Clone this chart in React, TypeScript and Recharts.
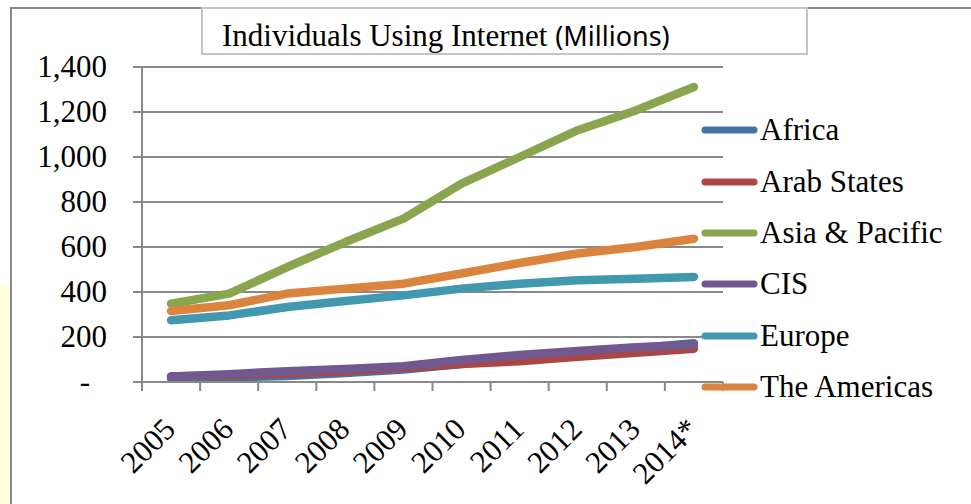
import { LineChart, Line, XAxis, YAxis, CartesianGrid, Legend } from "recharts";

const years = ["2005", "2006", "2007", "2008", "2009", "2010", "2011", "2012", "2013", "2014*"];
const africa = [15, 20, 27, 40, 55, 80, 105, 125, 150, 172];
const arabStates = [25, 30, 38, 48, 62, 80, 92, 112, 130, 148];
const asiaPacific = [348, 393, 511, 622, 726, 882, 1000, 1119, 1207, 1311];
const cis = [25, 35, 48, 58, 70, 98, 120, 138, 155, 165];
const europe = [274, 296, 333, 360, 385, 415, 437, 452, 459, 467];
const americas = [316, 341, 393, 415, 437, 482, 529, 571, 600, 637];
const yTicks = [0, 200, 400, 600, 800, 1000, 1200, 1400];
const yDomain = [0, 1400];

const series = [
  { name: "Africa", values: africa, color: "#4572A7" },
  { name: "Arab States", values: arabStates, color: "#AA4643" },
  { name: "Asia & Pacific", values: asiaPacific, color: "#89A54E" },
  { name: "CIS", values: cis, color: "#71588F" },
  { name: "Europe", values: europe, color: "#4198AF" },
  { name: "The Americas", values: americas, color: "#DB843D" },
];

const data = years.map((year, i) => {
  const row: any = { year };
  series.forEach((s) => (row[s.name] = s.values[i]));
  return row;
});

const WIDTH = 971;
const HEIGHT = 504;
const Y_AXIS_W = 142;
const chartMargin = { top: 67, right: 248, bottom: 0, left: 0 };
// width of one category band, for the tick marks between categories
const band = (WIDTH - Y_AXIS_W - chartMargin.right) / years.length;

const serif = "'Liberation Serif', 'Times New Roman', serif";
const grey = "#888888";
const axisStroke = { stroke: grey, strokeWidth: 2 };

const YearTick = ({ x, y, payload, index }: any) => {
  const axisY = y - 8;
  const left = x - band / 2;
  return (
    <g>
      <line x1={left} x2={left} y1={axisY} y2={axisY + 9} {...axisStroke} />
      {index === years.length - 1 && (
        <line
          x1={left + band}
          x2={left + band}
          y1={axisY}
          y2={axisY + 9}
          {...axisStroke}
        />
      )}
      <text
        x={x + 6}
        y={y + 41}
        textAnchor="end"
        fontFamily={serif}
        fontSize={31}
        fill="#000"
        transform={`rotate(-45, ${x + 6}, ${y + 41})`}
      >
        {payload.value}
      </text>
    </g>
  );
};

const ValueTick = ({ x, y, payload }: any) => {
  const v = payload.value;
  return (
    <text
      x={v === 0 ? x - 17 : x}
      y={y}
      dy="0.33em"
      textAnchor="end"
      fontFamily={serif}
      fontSize={31}
      fill="#000"
    >
      {v === 0 ? "-" : v.toLocaleString("en-US")}
    </text>
  );
};

const LegendBox = () => (
  <div>
    {series.map((s) => (
      <div
        key={s.name}
        style={{ display: "flex", alignItems: "center", height: 51.4 }}
      >
        <svg width={57} height={10}>
          <line
            x1={4}
            x2={53}
            y1={5}
            y2={5}
            stroke={s.color}
            strokeWidth={7}
            strokeLinecap="round"
          />
        </svg>
        <span
          style={{
            fontFamily: serif,
            fontSize: 31,
            color: "#000",
            marginLeft: 2,
            whiteSpace: "nowrap",
          }}
        >
          {s.name}
        </span>
      </div>
    ))}
  </div>
);

export default function App() {
  return (
    <div
      style={{
        position: "absolute",
        left: 0,
        top: 0,
        width: WIDTH,
        height: HEIGHT,
        overflow: "hidden",
        background: "#fff",
      }}
    >
      <div
        style={{
          position: "absolute",
          left: 0,
          top: 285,
          width: 9,
          height: 219,
          background: "#FFFFE0",
        }}
      />
      <div
        style={{
          position: "absolute",
          left: 10,
          top: 7,
          width: 1000,
          height: 600,
          border: `2px solid ${grey}`,
        }}
      />
      <div style={{ position: "absolute", left: 0, top: 0 }}>
        <LineChart width={WIDTH} height={HEIGHT} data={data} margin={chartMargin}>
          <CartesianGrid vertical={false} stroke={grey} strokeWidth={2} />
          <XAxis
            dataKey="year"
            scale="band"
            height={122}
            interval={0}
            axisLine={axisStroke}
            tickLine={false}
            tick={<YearTick />}
          />
          <YAxis
            width={Y_AXIS_W}
            domain={yDomain}
            ticks={yTicks}
            tickSize={9}
            tickMargin={26}
            tick={<ValueTick />}
            tickLine={axisStroke}
            axisLine={axisStroke}
          />
          <Legend
            layout="vertical"
            align="center"
            verticalAlign="middle"
            wrapperStyle={{ left: 701, top: 104.5, width: 270 }}
            content={<LegendBox />}
          />
          {series.map((s) => (
            <Line
              key={s.name}
              type="linear"
              dataKey={s.name}
              stroke={s.color}
              strokeWidth={8.5}
              strokeLinecap="round"
              strokeLinejoin="round"
              dot={false}
              activeDot={false}
              isAnimationActive={false}
            />
          ))}
        </LineChart>
      </div>
      <div
        style={{
          position: "absolute",
          left: 201,
          top: 7,
          width: 607,
          height: 48,
          boxSizing: "border-box",
          border: "2px solid #c4c4c4",
          background: "#fff",
          paddingLeft: 19,
          paddingTop: 5,
          lineHeight: "44px",
          whiteSpace: "nowrap",
        }}
      >
        <span style={{ fontFamily: serif, fontSize: 31 }}>
          Individuals Using Internet{" "}
        </span>
        <span style={{ fontFamily: "'Noto Sans', sans-serif", fontSize: 27 }}>
          (Millions)
        </span>
      </div>
    </div>
  );
}
